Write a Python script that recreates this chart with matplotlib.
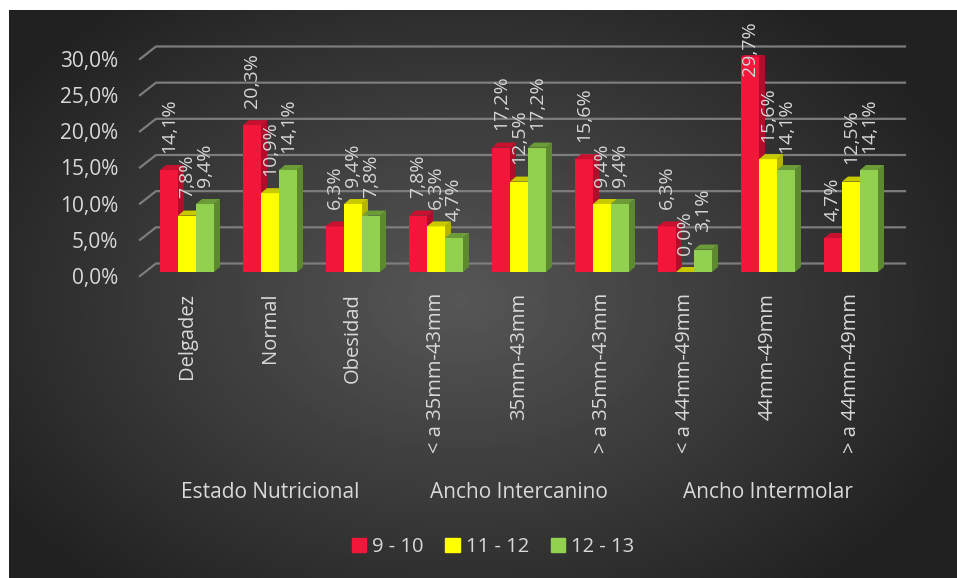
import numpy as np
import matplotlib.pyplot as plt
import matplotlib.transforms as mtransforms
from matplotlib.patches import Polygon, Patch

# data
categories = ['Delgadez', 'Normal', 'Obesidad',
              '< a 35mm-43mm', '35mm-43mm', '> a 35mm-43mm',
              '< a 44mm-49mm', '44mm-49mm', '> a 44mm-49mm']
groups = ['Estado Nutricional', 'Ancho Intercanino', 'Ancho Intermolar']
series = ['9 - 10', '11 - 12', '12 - 13']
v_9_10 = [14.1, 20.3, 6.3, 7.8, 17.2, 15.6, 6.3, 29.7, 4.7]
v_11_12 = [7.8, 10.9, 9.4, 6.3, 12.5, 9.4, 0.0, 15.6, 12.5]
v_12_13 = [9.4, 14.1, 7.8, 4.7, 17.2, 9.4, 3.1, 14.1, 14.1]
yticks = [0, 5, 10, 15, 20, 25, 30]

front_cols = ['#f2163b', '#ffff00', '#92d050']
side_cols = ['#b00f2b', '#b5b500', '#5e8a2f']
top_cols = ['#c8112f', '#c9c900', '#6c9c38']

W, H = 957, 578
fig = plt.figure(figsize=(W / 100, H / 100), dpi=100, facecolor='white')

# dark radial background panel
bg = fig.add_axes([9 / W, 0, 948 / W, 568 / H])
bg.axis('off')
yy, xx = np.mgrid[0:568, 0:948]
d = np.sqrt(((xx - 450) / 520.0) ** 2 + ((yy - 290) / 360.0) ** 2)
shade = np.clip(0.34 - 0.20 * d, 0.13, 0.34)
bg.imshow(shade, cmap='gray', vmin=0, vmax=1, aspect='auto',
          extent=[0, 1, 0, 1], interpolation='bilinear')
bg.set_xlim(0, 1)
bg.set_ylim(0, 1)

# plot area (front plane of the 3d chart)
ax = fig.add_axes([145.5 / W, 1 - 272 / H, 747 / W, 217 / H])
ax.patch.set_alpha(0)
ax.set_xlim(-0.5, 8.5)
ax.set_ylim(0, 30)
for s in ax.spines.values():
    s.set_visible(False)

pxx = 83.0   # px per category
pxy = 7.23   # px per percent

# gridlines with the perspective kink on the left
for v in yticks:
    ax.plot([-0.5 - 5.5 / pxx, -0.5 + 10.5 / pxx, 8.5 + 12.5 / pxx],
            [v - 4 / pxy, v + 8.5 / pxy, v + 8.5 / pxy],
            color='#7d7d7d', lw=1.6, clip_on=False, zorder=0)

bw = 18 / pxx
dx, dy = 6 / pxx, 5 / pxy
x = np.arange(len(categories))
for k, vals in enumerate([v_9_10, v_11_12, v_12_13]):
    xs = x + (k - 1) * bw
    ax.bar(xs, vals, width=bw, color=front_cols[k], zorder=2 + k)
    for xi, v in zip(xs, vals):
        r = xi + bw / 2
        l = xi - bw / 2
        ax.add_patch(Polygon([(r, 0), (r, v), (r + dx, v + dy), (r + dx, dy)],
                             closed=True, color=side_cols[k], zorder=2 + k, lw=0))
        ax.add_patch(Polygon([(l, v), (r, v), (r + dx, v + dy), (l + dx, v + dy)],
                             closed=True, color=top_cols[k], zorder=2 + k, lw=0))
        lab = ('%.1f%%' % v).replace('.', ',')
        ax.text(xi, min(v + 2.4, 27.1), lab, rotation=90, ha='center', va='bottom',
                color='#d6d6d6', fontsize=14, family=['Open Sans', 'DejaVu Sans'],
                zorder=10, clip_on=False, linespacing=1.0)

# y tick labels
ax.set_yticks(yticks, [('%.1f%%' % v).replace('.', ',') for v in yticks])
ax.tick_params(axis='y', length=0, pad=19.8, labelsize=15, labelcolor='#d9d9d9')
shift = mtransforms.ScaledTranslation(0, -4 / 100, fig.dpi_scale_trans)
for t in ax.get_yticklabels():
    t.set_fontfamily(['Open Sans', 'DejaVu Sans'])
    t.set_transform(t.get_transform() + shift)

# category labels
ax.set_xticks(x, categories, rotation=90)
ax.tick_params(axis='x', length=0, pad=15, labelsize=14.5, labelcolor='#d9d9d9')
for t in ax.get_xticklabels():
    t.set_fontfamily(['Open Sans', 'DejaVu Sans'])

# group labels
tr = mtransforms.blended_transform_factory(ax.transData, fig.transFigure)
for g, name in enumerate(groups):
    ax.text(3 * g + 1, 1 - 492 / H, name, transform=tr, ha='center', va='center',
            color='#d9d9d9', fontsize=15, family=['Open Sans', 'DejaVu Sans'])

# legend
handles = [Patch(color=c) for c in front_cols]
fig.legend(handles, series, loc='center', bbox_to_anchor=(493 / W, 1 - 547 / H),
           ncol=3, frameon=False, handlelength=0.7, handleheight=0.7,
           handletextpad=0.3, columnspacing=1.1,
           prop={'family': ['Open Sans', 'DejaVu Sans'], 'size': 14.5},
           labelcolor='#d9d9d9')

fig.savefig('out.png', dpi=100, facecolor='white')
